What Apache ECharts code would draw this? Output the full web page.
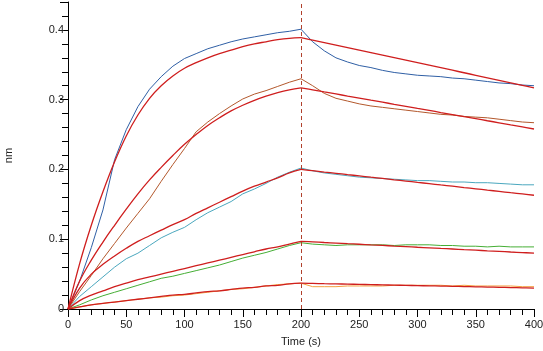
<!DOCTYPE html>
<html>
<head>
<meta charset="utf-8">
<script src="https://cdn.jsdelivr.net/npm/echarts@6/dist/echarts.min.js"></script>
<style>
  html, body { margin: 0; padding: 0; background: #ffffff; }
  #chart { width: 543px; height: 351px; }
</style>
</head>
<body>
<div id="chart"></div>
<script>
// time points (s), association 0-200, dissociation 200-400
const times = [0, 10, 20, 30, 40, 50, 60, 70, 80, 90, 100, 110, 120, 130, 140, 150, 160, 170, 180, 190, 200,
  210, 220, 230, 240, 250, 260, 270, 280, 290, 300, 310, 320, 330, 340, 350, 360, 370, 380, 390, 400];

// measured responses (nm)
const blueData = [0, 0.040, 0.088, 0.142, 0.214, 0.257, 0.290, 0.315, 0.333, 0.348, 0.359, 0.366, 0.373, 0.378, 0.383, 0.387, 0.390, 0.393, 0.396, 0.398, 0.401,
  0.383, 0.370, 0.360, 0.354, 0.349, 0.346, 0.342, 0.339, 0.337, 0.335, 0.334, 0.333, 0.331, 0.330, 0.328, 0.326, 0.324, 0.323, 0.321, 0.320];
const brownData = [0, 0.025, 0.048, 0.072, 0.094, 0.116, 0.137, 0.158, 0.183, 0.207, 0.230, 0.254, 0.268, 0.280, 0.291, 0.301, 0.308, 0.313, 0.319, 0.325, 0.330,
  0.320, 0.309, 0.302, 0.298, 0.294, 0.291, 0.289, 0.287, 0.285, 0.283, 0.281, 0.279, 0.278, 0.276, 0.275, 0.274, 0.272, 0.270, 0.268, 0.267];
const tealData = [0, 0.018, 0.032, 0.046, 0.060, 0.072, 0.080, 0.091, 0.102, 0.110, 0.117, 0.128, 0.138, 0.146, 0.154, 0.165, 0.172, 0.180, 0.189, 0.196, 0.202,
  0.198, 0.195, 0.193, 0.191, 0.189, 0.188, 0.187, 0.186, 0.185, 0.184, 0.184, 0.183, 0.182, 0.182, 0.181, 0.181, 0.180, 0.179, 0.178, 0.178];
const greenData = [0, 0.006, 0.013, 0.019, 0.024, 0.029, 0.034, 0.039, 0.044, 0.047, 0.051, 0.055, 0.059, 0.063, 0.068, 0.073, 0.077, 0.081, 0.086, 0.091, 0.095,
  0.093, 0.092, 0.091, 0.092, 0.092, 0.092, 0.092, 0.091, 0.092, 0.092, 0.092, 0.091, 0.091, 0.090, 0.090, 0.089, 0.090, 0.089, 0.089, 0.089];
const orangeData = [0, 0.003, 0.006, 0.008, 0.010, 0.012, 0.014, 0.016, 0.017, 0.019, 0.020, 0.022, 0.024, 0.026, 0.028, 0.029, 0.031, 0.033, 0.035, 0.036, 0.037,
  0.032, 0.032, 0.032, 0.033, 0.033, 0.033, 0.033, 0.034, 0.034, 0.034, 0.034, 0.034, 0.033, 0.034, 0.033, 0.033, 0.033, 0.033, 0.032, 0.032];

// global fit curves (nm)
const fit1 = [0, 0.065, 0.120, 0.168, 0.211, 0.248, 0.278, 0.302, 0.320, 0.334, 0.345, 0.353, 0.360, 0.366, 0.371, 0.376, 0.380, 0.383, 0.386, 0.388, 0.389,
  0.3854, 0.3818, 0.3782, 0.3746, 0.3710, 0.3674, 0.3638, 0.3602, 0.3566, 0.3530, 0.3494, 0.3458, 0.3422, 0.3386, 0.3350, 0.3314, 0.3278, 0.3242, 0.3206, 0.3170];
const fit2 = [0, 0.040, 0.070, 0.096, 0.120, 0.143, 0.165, 0.185, 0.203, 0.220, 0.236, 0.250, 0.263, 0.274, 0.284, 0.292, 0.299, 0.305, 0.310, 0.314, 0.317,
  0.3141, 0.3111, 0.3082, 0.3052, 0.3023, 0.2993, 0.2964, 0.2934, 0.2905, 0.2875, 0.2846, 0.2816, 0.2787, 0.2757, 0.2728, 0.2698, 0.2669, 0.2639, 0.2610, 0.2580];
const fit3 = [0, 0.030, 0.050, 0.064, 0.076, 0.087, 0.097, 0.105, 0.113, 0.121, 0.128, 0.137, 0.145, 0.153, 0.161, 0.169, 0.176, 0.182, 0.188, 0.195, 0.200,
  0.1982, 0.1963, 0.1945, 0.1926, 0.1908, 0.1889, 0.1871, 0.1852, 0.1834, 0.1815, 0.1797, 0.1778, 0.1760, 0.1741, 0.1723, 0.1704, 0.1686, 0.1667, 0.1649, 0.1630];
const fit4 = [0, 0.012, 0.020, 0.026, 0.032, 0.037, 0.042, 0.046, 0.050, 0.054, 0.058, 0.062, 0.066, 0.070, 0.074, 0.078, 0.082, 0.086, 0.089, 0.093, 0.097,
  0.0962, 0.0953, 0.0945, 0.0936, 0.0928, 0.0919, 0.0911, 0.0902, 0.0894, 0.0885, 0.0877, 0.0868, 0.0860, 0.0851, 0.0843, 0.0834, 0.0826, 0.0817, 0.0809, 0.0800];
const fit5 = [0, 0.003, 0.006, 0.008, 0.010, 0.012, 0.014, 0.016, 0.018, 0.020, 0.021, 0.023, 0.025, 0.026, 0.028, 0.030, 0.031, 0.033, 0.034, 0.036, 0.037,
  0.0367, 0.0363, 0.0360, 0.0356, 0.0353, 0.0349, 0.0346, 0.0342, 0.0339, 0.0335, 0.0332, 0.0328, 0.0325, 0.0321, 0.0318, 0.0314, 0.0311, 0.0307, 0.0304, 0.0300];

const yTicks = [0, 0.1, 0.2, 0.3, 0.4];
const switchTime = 200;

const pairs = (vals) => times.map((t, i) => [t, vals[i]]);

const chart = echarts.init(document.getElementById("chart"));

const dataSeries = [
  { name: "c1", vals: blueData, color: "#2f5fa5" },
  { name: "c2", vals: brownData, color: "#b3582c" },
  { name: "c3", vals: tealData, color: "#4aa7be" },
  { name: "c4", vals: greenData, color: "#45ae35" },
  { name: "c5", vals: orangeData, color: "#f3a040" },
];
const fitSeries = [fit1, fit2, fit3, fit4, fit5];

const series = [];
dataSeries.forEach((d) => {
  series.push({
    name: d.name,
    type: "line",
    data: pairs(d.vals),
    showSymbol: false,
    lineStyle: { color: d.color, width: 1 },
    z: 2,
  });
});
// fits: association and dissociation drawn as separate smooth pieces
fitSeries.forEach((f, i) => {
  const pts = pairs(f);
  [pts.filter((p) => p[0] <= switchTime), pts.filter((p) => p[0] >= switchTime)].forEach((part, j) => {
    series.push({
      name: "fit" + (i + 1) + (j ? "d" : "a"),
      type: "line",
      data: part,
      showSymbol: false,
      smooth: 0.4,
      lineStyle: { color: "#cf1e1e", width: 1.3 },
      z: 3,
    });
  });
});
// end of association phase
series[0].markLine = {
  silent: true,
  symbol: "none",
  label: { show: false },
  lineStyle: { color: "#b0402c", type: [4, 3], width: 1 },
  data: [{ xAxis: switchTime }],
};

const option = {
  backgroundColor: "#ffffff",
  animation: false,
  grid: { left: 68, right: 9, top: 2, bottom: 42, containLabel: false, outerBoundsMode: "none" },
  xAxis: {
    type: "value",
    min: 0,
    max: 400,
    interval: 50,
    name: "Time (s)",
    nameLocation: "middle",
    nameGap: 27,
    nameTextStyle: { color: "#222", fontSize: 11, fontFamily: "Liberation Sans" },
    axisLine: { lineStyle: { color: "#000", width: 1 } },
    axisTick: { length: 8, lineStyle: { color: "#000" } },
    minorTick: { show: true, splitNumber: 5, length: 6, lineStyle: { color: "#000" } },
    axisLabel: { color: "#222", fontSize: 11, fontFamily: "Liberation Sans", margin: 10 },
    splitLine: { show: false },
  },
  yAxis: {
    type: "value",
    min: 0,
    max: 0.44,
    interval: 0.1,
    name: "nm",
    nameLocation: "middle",
    nameGap: 54,
    nameRotate: 90,
    nameTextStyle: { color: "#222", fontSize: 11, fontFamily: "Liberation Sans" },
    axisLine: { show: true, lineStyle: { color: "#000", width: 1 } },
    axisTick: { show: true, length: 8, lineStyle: { color: "#000" } },
    minorTick: { show: true, splitNumber: 5, length: 6, lineStyle: { color: "#000" } },
    axisLabel: {
      color: "#222",
      fontSize: 11,
      fontFamily: "Liberation Sans",
      margin: 4,
      formatter: (v) => (yTicks.some((t) => Math.abs(t - v) < 1e-9) ? String(+v.toFixed(1)) : ""),
    },
    splitLine: { show: false },
  },
  series: series,
};

chart.setOption(option);
</script>
</body>
</html>
